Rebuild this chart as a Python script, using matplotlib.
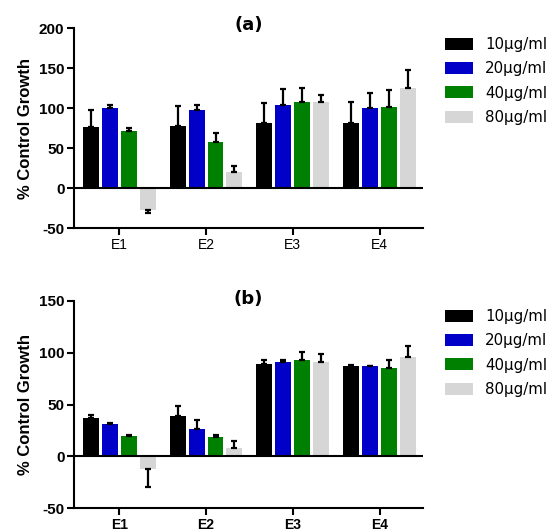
import numpy as np
import matplotlib
matplotlib.use('Agg')
import matplotlib.pyplot as plt

# Data
groups = ['E1', 'E2', 'E3', 'E4']
doses = ['10\u00b5g/ml', '20\u00b5g/ml', '40\u00b5g/ml', '80\u00b5g/ml']

# panel (a): rows = dose, cols = group
vals_a = [[76, 78, 81, 81],
          [100, 97, 104, 100],
          [71, 58, 108, 101],
          [-28, 20, 107, 125]]
errs_a = [[21, 24, 25, 26],
          [4, 7, 20, 19],
          [3.5, 11, 17, 22],
          [3, 7, 9, 22]]

# panel (b)
vals_b = [[37, 39, 89, 87],
          [31, 26, 91, 87],
          [19.5, 19, 93, 85],
          [-12, 8.5, 90.5, 96]]
errs_b = [[3, 10, 4, 1.5],
          [1.5, 9, 1.5, 0.5],
          [1.5, 2, 8, 8],
          [17, 6, 8, 10]]

colors = ['#000000', '#0000C8', '#008000', '#D6D6D6']

plt.rcParams['font.family'] = ['Liberation Sans', 'DejaVu Sans']
plt.rcParams['axes.unicode_minus'] = False

fig = plt.figure(figsize=(5.53, 5.31), dpi=100)
ax_a = fig.add_axes([0.134, 0.5706, 0.631, 0.3766])
ax_b = fig.add_axes([0.134, 0.0427, 0.631, 0.391])


def draw(ax, vals, errs, ylim, yticks, title, title_y, leg_top, xbold):
    x = np.arange(len(groups))
    step, width = 0.218, 0.184
    for i, (v, e) in enumerate(zip(vals, errs)):
        v = np.array(v, dtype=float)
        e = np.array(e, dtype=float)
        lower = np.where(v < 0, e, 0)
        upper = np.where(v >= 0, e, 0)
        ax.bar(x + (i - 1.5) * step, v, width, color=colors[i], label=doses[i],
               yerr=[lower, upper], capsize=2.4,
               error_kw=dict(ecolor='black', elinewidth=1.6, capthick=1.6), zorder=2)
    ax.axhline(0, color='black', lw=1.5, zorder=3)
    ax.set_xlim(-0.52, 3.5)
    ax.set_ylim(*ylim)
    ax.set_yticks(yticks)
    ax.set_xticks(x)
    ax.set_xticklabels(groups, fontsize=10, fontweight='bold' if xbold else 'normal')
    for lab in ax.get_yticklabels():
        lab.set_fontweight('bold')
        lab.set_fontsize(11)
    ax.spines['top'].set_visible(False)
    ax.spines['right'].set_visible(False)
    ax.spines['left'].set_linewidth(1.5)
    ax.spines['bottom'].set_linewidth(1.5)
    ax.tick_params(width=1.5, length=5, pad=2)
    ax.set_ylabel('% Control Growth', fontsize=12, fontweight='bold', labelpad=4)
    ax.set_title(title, fontsize=13, fontweight='bold', family='DejaVu Sans',
                 y=title_y, pad=0)
    ax.legend(loc='upper left', bbox_to_anchor=(445 / 553, leg_top),
              bbox_transform=fig.transFigure, frameon=False,
              prop=dict(family='DejaVu Sans', size=10.8),
              handlelength=1.87, handleheight=0.87, labelspacing=0.62,
              handletextpad=0.8, borderpad=0, borderaxespad=0)


draw(ax_a, vals_a, errs_a, (-50, 200), [-50, 0, 50, 100, 150, 200], '(a)', 0.992,
     1 - 37 / 531, False)
draw(ax_b, vals_b, errs_b, (-50, 150), [-50, 0, 50, 100, 150], '(b)', 0.985,
     1 - 309 / 531, True)

plt.savefig('out.png', dpi=100)
